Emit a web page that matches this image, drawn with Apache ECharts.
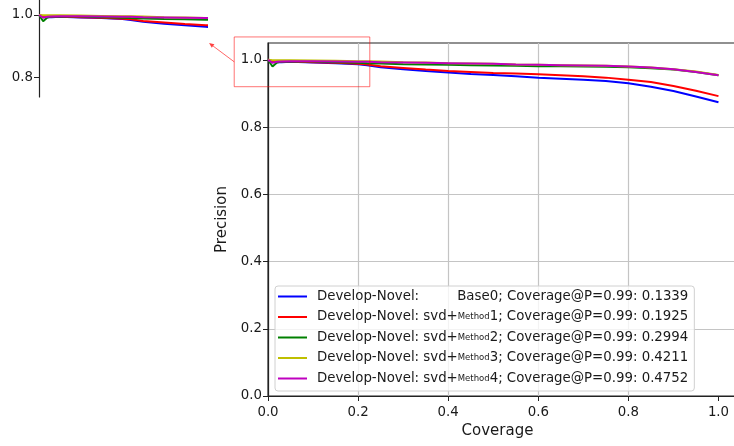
<!DOCTYPE html>
<html>
<head>
<meta charset="utf-8">
<script src="https://cdn.jsdelivr.net/npm/echarts@6/dist/echarts.min.js"></script>
<style>
html,body{margin:0;padding:0;background:#fff;}
#chart{width:734px;height:446px;}
</style>
</head>
<body>
<div id="chart"></div>
<script>
// ---- data ----
const coverage = [0, 0.01, 0.02, 0.03, 0.05, 0.1, 0.15, 0.2, 0.22, 0.25, 0.3, 0.35, 0.4, 0.45, 0.5, 0.55, 0.6, 0.65, 0.7, 0.75, 0.8, 0.85, 0.9, 0.95, 1.0];
const precisionBase0   = [1.0, 0.995, 0.993, 0.993, 0.994, 0.992, 0.990, 0.987, 0.984, 0.978, 0.972, 0.967, 0.962, 0.958, 0.955, 0.951, 0.947, 0.944, 0.941, 0.937, 0.930, 0.920, 0.907, 0.891, 0.874];
const precisionMethod1 = [1.0, 0.996, 0.995, 0.995, 0.995, 0.993, 0.991, 0.988, 0.986, 0.981, 0.976, 0.971, 0.967, 0.964, 0.961, 0.959, 0.957, 0.954, 0.951, 0.947, 0.941, 0.934, 0.922, 0.908, 0.892];
const precisionMethod2 = [1.0, 0.980, 0.992, 0.995, 0.996, 0.995, 0.993, 0.991, 0.990, 0.989, 0.987, 0.986, 0.985, 0.984, 0.983, 0.982, 0.981, 0.981, 0.980, 0.979, 0.978, 0.975, 0.971, 0.964, 0.954];
const precisionMethod3 = [1.0, 0.999, 0.999, 0.999, 0.999, 0.998, 0.997, 0.996, 0.996, 0.995, 0.993, 0.992, 0.990, 0.989, 0.988, 0.986, 0.985, 0.984, 0.983, 0.982, 0.980, 0.977, 0.972, 0.965, 0.955];
const precisionMethod4 = [1.0, 0.991, 0.994, 0.995, 0.996, 0.996, 0.995, 0.994, 0.994, 0.993, 0.992, 0.991, 0.990, 0.989, 0.988, 0.986, 0.985, 0.984, 0.983, 0.982, 0.980, 0.977, 0.972, 0.964, 0.954];
const methodNames = ['Base0', 'Method1', 'Method2', 'Method3', 'Method4'];
const coverageAtP99 = ['0.1339', '0.1925', '0.2994', '0.4211', '0.4752'];
const xTicks = [0, 0.2, 0.4, 0.6, 0.8, 1.0];
const yTicks = [0, 0.2, 0.4, 0.6, 0.8, 1.0];
const insetXTicks = [0.2, 0.4];
const insetYTicks = [0.8, 1.0];

// ---- styling ----
const FONT = 'DejaVu Sans';
const FS = 13.33;
const colors = ['#0000ff', '#ff0000', '#008000', '#bfbf00', '#bf00bf'];
const allPrecision = [precisionBase0, precisionMethod1, precisionMethod2, precisionMethod3, precisionMethod4];
const seriesNames = methodNames.map((m, i) => i === 0
  ? 'Develop-Novel: ' + m + '; Coverage@P=0.99: ' + coverageAtP99[i]
  : 'Develop-Novel: svd+' + m + '; Coverage@P=0.99: ' + coverageAtP99[i]);

// measure width of the right part for aligning row 1
const cv = document.createElement('canvas').getContext('2d');
cv.font = FS + 'px "' + FONT + '"';
const wSvd = cv.measureText('svd+').width;
const wTail = cv.measureText('1; Coverage@P=0.99: 0.1925').width;
cv.font = '8.5px "' + FONT + '"';
const wMethod = cv.measureText('Method').width;
const rightW = Math.ceil(wSvd + wMethod + wTail);

const gridColor = '#c4c4c4';
const spineColor = '#222';
const textColor = '#1a1a1a';

const chart = echarts.init(document.getElementById('chart'), null, {renderer: 'canvas'});

function makeSeries(axisIdx) {
  return allPrecision.map((arr, i) => ({
    name: seriesNames[i], type: 'line', xAxisIndex: axisIdx, yAxisIndex: axisIdx,
    data: coverage.map((x, k) => [x, arr[k]]),
    showSymbol: false, symbol: 'none', color: colors[i],
    lineStyle: {width: 2, color: colors[i]}, z: 3 + i, animation: false
  }));
}

const option = {
  animation: false,
  backgroundColor: '#fff',
  textStyle: {fontFamily: FONT},
  grid: [
    {left: 268, top: 43, width: 473, height: 353, outerBoundsMode: 'none', containLabel: false,
      show: true, borderColor: spineColor, borderWidth: 1.2, backgroundColor: 'transparent'},
    {left: 39, top: 0, width: 168, height: 97, outerBoundsMode: 'none', containLabel: false, show: false}
  ],
  xAxis: [
    {
      type: 'value', gridIndex: 0, min: 0, max: 1.05, interval: 0.2,
      name: 'Coverage', nameLocation: 'middle', nameGap: 28,
      nameTextStyle: {fontSize: 15, color: textColor, fontFamily: FONT, padding: [0, 14, 0, 0]},
      axisLine: {show: true, onZero: false, lineStyle: {color: spineColor, width: 1.2}},
      axisTick: {show: true, length: 5, customValues: xTicks, lineStyle: {color: spineColor, width: 1}},
      axisLabel: {show: true, customValues: xTicks, margin: 10, fontSize: FS, color: textColor, fontFamily: FONT,
        formatter: v => (+v).toFixed(1)},
      splitLine: {show: true, showMaxLine: false, lineStyle: {color: gridColor, width: 1.2}}
    },
    {
      type: 'value', gridIndex: 1, min: 0, max: 0.403, interval: 0.2,
      axisLine: {show: false}, axisTick: {show: false, customValues: insetXTicks},
      axisLabel: {show: false},
      splitLine: {show: true, showMinLine: false, showMaxLine: false, lineStyle: {color: gridColor, width: 1.2}}
    }
  ],
  yAxis: [
    {
      type: 'value', gridIndex: 0, min: 0, max: 1.05, interval: 0.2,
      name: 'Precision', nameLocation: 'middle', nameGap: 36, nameRotate: 90,
      nameTextStyle: {fontSize: 15, color: textColor, fontFamily: FONT},
      axisLine: {show: true, onZero: false, lineStyle: {color: spineColor, width: 1.2}},
      axisTick: {show: true, length: 5, customValues: yTicks, lineStyle: {color: spineColor, width: 1}},
      axisLabel: {show: true, customValues: yTicks, margin: 6, fontSize: FS, color: textColor, fontFamily: FONT,
        formatter: v => (+v).toFixed(1)},
      splitLine: {show: true, showMaxLine: false, lineStyle: {color: gridColor, width: 1.2}}
    },
    {
      type: 'value', gridIndex: 1, min: 0.737, max: 1.048,
      axisLine: {show: true, onZero: false, lineStyle: {color: spineColor, width: 1.2}},
      axisTick: {show: true, length: 5, customValues: insetYTicks, lineStyle: {color: spineColor, width: 1}},
      axisLabel: {show: true, customValues: insetYTicks, margin: 6, fontSize: FS, color: textColor, fontFamily: FONT,
        formatter: v => (+v).toFixed(1)},
      splitLine: {show: true, showMinLine: false, showMaxLine: false, lineStyle: {color: gridColor, width: 1.2}}
    }
  ],
  legend: {
    data: seriesNames,
    orient: 'vertical',
    left: 275, top: 286,
    padding: [4, 6, 6, 3],
    itemGap: 7.5,
    itemWidth: 29, itemHeight: 2,
    icon: 'rect',
    backgroundColor: 'rgba(255,255,255,0.8)',
    borderColor: '#d0d0d0', borderWidth: 1, borderRadius: 3,
    selectedMode: false,
    z: 20,
    textStyle: {
      fontFamily: FONT, fontSize: FS, color: textColor,
      rich: {
        p: {width: 5},
        a: {fontSize: FS, fontFamily: FONT, color: textColor},
        s: {fontSize: 8.5, fontFamily: FONT, color: textColor, verticalAlign: 'middle'},
        w: {fontSize: FS, fontFamily: FONT, color: textColor, width: rightW, align: 'right'}
      }
    },
    formatter: function (name) {
      const i = seriesNames.indexOf(name);
      if (i === 0) {
        return '{p| }{a|Develop-Novel: }{w|' + methodNames[0] + '; Coverage@P=0.99: ' + coverageAtP99[0] + '}';
      }
      const digit = methodNames[i].replace('Method', '');
      return '{p| }{a|Develop-Novel: svd+}{s|Method}{a|' + digit + '; Coverage@P=0.99: ' + coverageAtP99[i] + '}';
    }
  },
  series: makeSeries(0).concat(makeSeries(1))
};
chart.setOption(option);

// zoom rectangle (data coords of main axes) and arrow to inset
const r0 = chart.convertToPixel({gridIndex: 0}, [-0.075, 1.068]);
const r1 = chart.convertToPixel({gridIndex: 0}, [0.226, 0.92]);
const tail = [r0[0], (r0[1] + r1[1]) / 2];
const head = chart.convertToPixel({gridIndex: 1}, [0.408, 0.91]);
const dx = head[0] - tail[0], dy = head[1] - tail[1];
const len = Math.sqrt(dx * dx + dy * dy);
const ux = dx / len, uy = dy / len;
const hl = 5, hw = 2.2;
const bx = head[0] - ux * hl, by = head[1] - uy * hl;
chart.setOption({
  graphic: [
    {type: 'rect', z: 30, shape: {x: r0[0], y: r0[1], width: r1[0] - r0[0], height: r1[1] - r0[1]},
      style: {fill: 'none', stroke: 'rgba(255,0,0,0.55)', lineWidth: 1}},
    {type: 'line', z: 30, shape: {x1: tail[0], y1: tail[1], x2: bx, y2: by},
      style: {stroke: 'rgba(255,0,0,0.6)', lineWidth: 1}},
    {type: 'polygon', z: 30, shape: {points: [head, [bx - uy * hw, by + ux * hw], [bx + uy * hw, by - ux * hw]]},
      style: {fill: 'rgba(255,0,0,0.75)', stroke: 'none'}}
  ]
});
</script>
</body>
</html>
